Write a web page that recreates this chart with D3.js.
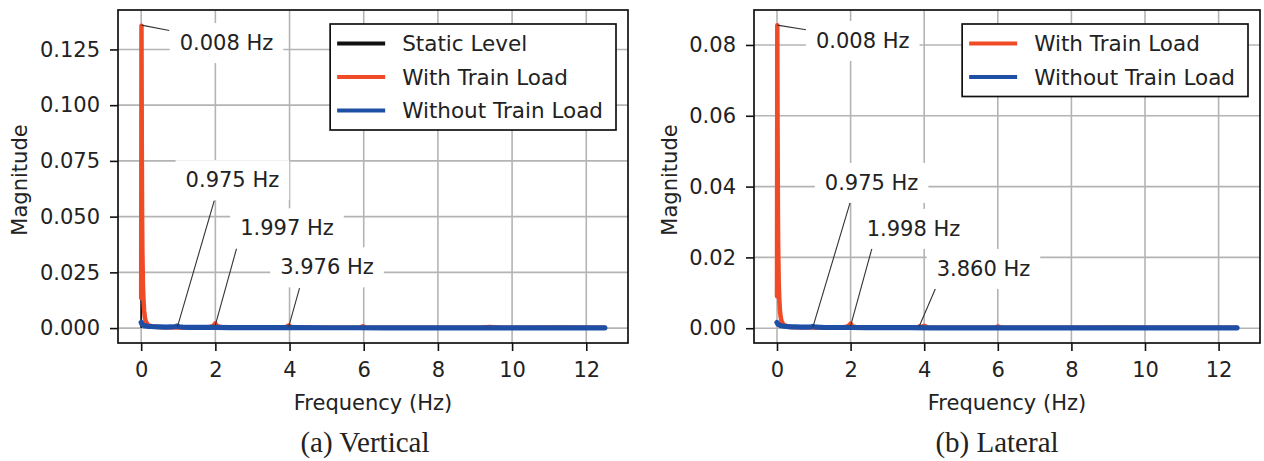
<!DOCTYPE html>
<html>
<head>
<meta charset="utf-8">
<script src="https://cdn.jsdelivr.net/npm/d3@7"></script>
<style>
  body { margin: 0; background: #fff; }
  svg { display: block; }
  text { font-family: "DejaVu Sans", sans-serif; fill: #222; }
  .caption { font-family: "Liberation Serif", "Times New Roman", serif; }
</style>
</head>
<body>
<script>
// ---- data: (a) vertical ----
const vFreqStatic = [0, 0.008, 0.016, 0.024, 0.04, 0.064, 0.1, 0.2, 0.4, 1, 2, 4, 6, 8, 10, 12.5];
const vMagStatic  = [0.0004, 0.1359, 0.0998, 0.046, 0.021, 0.0095, 0.0042, 0.0012, 0.0005, 0.0003, 0.0002, 0.00015, 0.0001, 0.0001, 0.0001, 0.0001];

const vFreqWith = [0, 0.008, 0.016, 0.024, 0.032, 0.048, 0.064, 0.08, 0.1, 0.12,
  0.16, 0.2, 0.3, 0.45, 0.7, 1.0, 1.4, 1.8, 1.94, 1.997,
  2.05, 2.2, 2.8, 3.4, 3.9, 3.976, 4.05, 4.5, 5.2, 5.9,
  5.98, 6.06, 6.6, 7.4, 8.2, 9.1, 9.4, 9.7, 10.5, 11.3,
  12.0, 12.5];
const vMagWith = [0.0135, 0.1356, 0.084, 0.052, 0.035, 0.019, 0.012, 0.0078, 0.0048, 0.0032,
  0.0019, 0.0012, 0.0007, 0.0005, 0.0004, 0.0003, 0.0003, 0.0003, 0.0009, 0.0021,
  0.0008, 0.0003, 0.0002, 0.0002, 0.0004, 0.0012, 0.0004, 0.0002, 0.0002, 0.0003,
  0.0008, 0.0002, 0.00015, 0.0002, 0.00012, 0.00015, 0.0005, 0.00012, 0.0001, 0.0003,
  0.0001, 0.0001];

const vFreqWithout = [0, 0.008, 0.016, 0.03, 0.05, 0.08, 0.12, 0.18, 0.26, 0.36,
  0.5, 0.66, 0.82, 0.93, 0.975, 1.02, 1.12, 1.3, 1.6, 2.0,
  2.4, 3.0, 3.6, 4.2, 5.0, 5.8, 6.6, 7.4, 8.2, 9.0,
  9.8, 10.6, 11.4, 12.0, 12.5];
const vMagWithout = [0.0026, 0.0024, 0.0019, 0.0016, 0.0013, 0.0011, 0.0010, 0.0008, 0.0007, 0.0006,
  0.0005, 0.0004, 0.0005, 0.0007, 0.0009, 0.0006, 0.0004, 0.0003, 0.0003, 0.0003,
  0.0002, 0.0002, 0.0002, 0.0002, 0.00015, 0.00015, 0.00012, 0.00012, 0.0001, 0.0001,
  0.0001, 0.0001, 0.0001, 0.0001, 0.0001];

const vAnnLabels  = ['0.008 Hz', '0.975 Hz', '1.997 Hz', '3.976 Hz'];
const vAnnFreq    = [0.008, 0.975, 1.997, 3.976];
const vAnnMag     = [0.1359, 0.0004, 0.0012, 0.0005];
const vAnnText    = [[2.30, 0.1281], [2.46, 0.0666], [3.93, 0.0450], [5.01, 0.0275]];
const vAnnLineEnd = [[0.76, 0.1335], [1.97, 0.0572], [2.57, 0.0356], [4.27, 0.0179]];
const vYTicks = [0, 0.025, 0.05, 0.075, 0.1, 0.125];

// ---- data: (b) lateral ----
const lFreqWith = [0, 0.008, 0.016, 0.024, 0.032, 0.048, 0.064, 0.08, 0.1, 0.12,
  0.16, 0.2, 0.3, 0.45, 0.7, 1.0, 1.4, 1.8, 1.94, 1.998,
  2.05, 2.2, 2.8, 3.4, 3.8, 3.86, 3.95, 4.0, 4.1, 4.6,
  5.3, 5.95, 6.0, 6.08, 6.8, 7.6, 8.4, 9.2, 10.0, 10.8,
  11.6, 12.2, 12.5];
const lMagWith = [0.009, 0.0856, 0.055, 0.034, 0.023, 0.0125, 0.0078, 0.005, 0.0032, 0.0021,
  0.0013, 0.0008, 0.0005, 0.0003, 0.00025, 0.0002, 0.0002, 0.0002, 0.0006, 0.0013,
  0.0005, 0.0002, 0.00015, 0.00015, 0.0002, 0.0005, 0.0004, 0.0007, 0.0002, 0.00015,
  0.00012, 0.0002, 0.0005, 0.00015, 0.0001, 0.00015, 0.0001, 0.0002, 0.0001, 0.0001,
  0.0001, 0.0001, 0.0001];

const lFreqWithout = [0, 0.008, 0.016, 0.03, 0.05, 0.08, 0.12, 0.18, 0.26, 0.36,
  0.5, 0.66, 0.82, 0.93, 0.975, 1.02, 1.12, 1.3, 1.6, 2.0,
  2.4, 3.0, 3.6, 4.2, 5.0, 5.8, 6.6, 7.4, 8.2, 9.0,
  9.8, 10.6, 11.4, 12.0, 12.5];
const lMagWithout = [0.0016, 0.0015, 0.0013, 0.0011, 0.0010, 0.0008, 0.0007, 0.0006, 0.0005, 0.0004,
  0.0004, 0.0003, 0.0003, 0.0004, 0.0005, 0.0004, 0.0003, 0.0002, 0.0002, 0.0002,
  0.00015, 0.00015, 0.00015, 0.00012, 0.0001, 0.0001, 0.0001, 0.0001, 0.0001, 0.0001,
  0.0001, 0.0001, 0.0001, 0.0001, 0.0001];

const lAnnLabels  = ['0.008 Hz', '0.975 Hz', '1.998 Hz', '3.860 Hz'];
const lAnnFreq    = [0.008, 0.975, 1.998, 3.86];
const lAnnMag     = [0.0856, 0.0003, 0.0006, 0.0004];
const lAnnText    = [[2.33, 0.0813], [2.57, 0.0412], [3.71, 0.0282], [5.61, 0.0169]];
const lAnnLineEnd = [[0.79, 0.0843], [1.99, 0.0356], [2.61, 0.0237], [4.31, 0.0113]];
const lYTicks = [0, 0.02, 0.04, 0.06, 0.08];

const xTicks = [0, 2, 4, 6, 8, 10, 12];
const colors = { static: '#111111', with: '#ef4b27', without: '#1e4fa5' };

const FS = 21;
const svg = d3.select('body').append('svg')
    .attr('width', 1264)
    .attr('height', 461);

// matplotlib style 5% margins
function padded(ext) {
  const r = ext[1] - ext[0];
  return [ext[0] - r * 0.05, ext[1] + r * 0.05];
}

function drawPanel(p) {
  const allF = p.series.flatMap(s => s.freq);
  const allM = p.series.flatMap(s => s.mag);
  const x = d3.scaleLinear().domain(padded(d3.extent(allF))).range([p.left, p.right]);
  const y = d3.scaleLinear().domain(padded(d3.extent(allM))).range([p.bottom, p.top]);
  const g = svg.append('g');

  // grid
  g.append('g').selectAll('line').data(xTicks).join('line')
      .attr('x1', d => x(d)).attr('x2', d => x(d))
      .attr('y1', p.top).attr('y2', p.bottom)
      .attr('stroke', '#b4b4b4').attr('stroke-width', 1.6);
  g.append('g').selectAll('line').data(p.yTicks).join('line')
      .attr('y1', d => y(d)).attr('y2', d => y(d))
      .attr('x1', p.left).attr('x2', p.right)
      .attr('stroke', '#b4b4b4').attr('stroke-width', 1.6);

  // spectra
  const line = d3.line().x(d => x(d[0])).y(d => y(d[1]));
  p.series.forEach(s => {
    g.append('path')
        .datum(d3.zip(s.freq, s.mag))
        .attr('d', line)
        .attr('fill', 'none')
        .attr('stroke', s.color)
        .attr('stroke-width', s.width)
        .attr('stroke-linejoin', 'round')
        .attr('stroke-linecap', 'round');
  });

  // annotations
  p.ann.labels.forEach((lab, i) => {
    const a = g.append('g');
    a.append('line')
        .attr('x1', x(p.ann.freq[i])).attr('y1', y(p.ann.mag[i]))
        .attr('x2', x(p.ann.end[i][0])).attr('y2', y(p.ann.end[i][1]))
        .attr('stroke', '#333').attr('stroke-width', 1.1);
    const box = a.append('rect').attr('fill', '#fff');
    const t = a.append('text')
        .attr('x', x(p.ann.text[i][0]))
        .attr('y', y(p.ann.text[i][1]))
        .attr('dy', '0.36em')
        .attr('text-anchor', 'middle')
        .attr('font-size', FS)
        .text(lab);
    const bb = t.node().getBBox();
    box.attr('x', bb.x - 10).attr('y', bb.y - 8)
        .attr('width', bb.width + 20).attr('height', bb.height + 16);
  });

  // axes
  const ax = g.append('g')
      .attr('transform', `translate(0,${p.bottom})`)
      .call(d3.axisBottom(x).tickValues(xTicks).tickSize(8).tickPadding(11).tickFormat(d3.format('d')));
  const ay = g.append('g')
      .attr('transform', `translate(${p.left},0)`)
      .call(d3.axisLeft(y).tickValues(p.yTicks).tickSize(8).tickPadding(10).tickFormat(d3.format(p.yFmt)));
  [ax, ay].forEach(a => {
    a.select('.domain').remove();
    a.selectAll('line').attr('stroke', '#111').attr('stroke-width', 1.6);
    a.selectAll('text').attr('font-size', FS).attr('font-family', 'DejaVu Sans').attr('fill', '#222');
  });

  // frame
  g.append('rect')
      .attr('x', p.left).attr('y', p.top)
      .attr('width', p.right - p.left).attr('height', p.bottom - p.top)
      .attr('fill', 'none').attr('stroke', '#111').attr('stroke-width', 1.7);

  // legend
  const lg = g.append('g');
  const lbox = lg.append('rect').attr('fill', '#fff').attr('stroke', '#111').attr('stroke-width', 1.7);
  const items = p.series.filter(s => s.legend);
  let maxW = 0;
  items.forEach((s, i) => {
    const cy = 19.5 + 33.5 * i;
    lg.append('line').attr('x1', 7).attr('x2', 55).attr('y1', cy).attr('y2', cy)
        .attr('stroke', s.color).attr('stroke-width', 4);
    const tt = lg.append('text').attr('x', 72).attr('y', cy).attr('dy', '0.36em')
        .attr('font-size', 21.5).text(s.name);
    maxW = Math.max(maxW, tt.node().getComputedTextLength());
  });
  const lw = 72 + maxW + 13, lh = 39 + 33.5 * (items.length - 1);
  lbox.attr('width', lw).attr('height', lh);
  lg.attr('transform', `translate(${p.right - 12 - lw},24)`);

  // labels
  g.append('text')
      .attr('x', (p.left + p.right) / 2).attr('y', 410)
      .attr('text-anchor', 'middle').attr('font-size', FS)
      .text('Frequency (Hz)');
  g.append('text')
      .attr('transform', `translate(${p.ylabelX},180) rotate(-90)`)
      .attr('text-anchor', 'middle').attr('font-size', FS)
      .text('Magnitude');
  g.append('text')
      .attr('class', 'caption')
      .attr('x', p.captionX).attr('y', 452)
      .attr('text-anchor', 'middle').attr('font-size', 29)
      .attr('fill', '#111')
      .text(p.caption);
}

drawPanel({
  left: 118, right: 628, top: 10, bottom: 343,
  ylabelX: 27, captionX: 365, caption: '(a) Vertical',
  yTicks: vYTicks, yFmt: '.3f',
  series: [
    { name: 'Static Level', freq: vFreqStatic, mag: vMagStatic, color: colors.static, width: 1.8, legend: true },
    { name: 'With Train Load', freq: vFreqWith, mag: vMagWith, color: colors.with, width: 4.5, legend: true },
    { name: 'Without Train Load', freq: vFreqWithout, mag: vMagWithout, color: colors.without, width: 5.2, legend: true }
  ],
  ann: { labels: vAnnLabels, freq: vAnnFreq, mag: vAnnMag, text: vAnnText, end: vAnnLineEnd }
});

drawPanel({
  left: 754, right: 1260, top: 10, bottom: 343,
  ylabelX: 677, captionX: 997, caption: '(b) Lateral',
  yTicks: lYTicks, yFmt: '.2f',
  series: [
    { name: 'With Train Load', freq: lFreqWith, mag: lMagWith, color: colors.with, width: 4.5, legend: true },
    { name: 'Without Train Load', freq: lFreqWithout, mag: lMagWithout, color: colors.without, width: 5.2, legend: true }
  ],
  ann: { labels: lAnnLabels, freq: lAnnFreq, mag: lAnnMag, text: lAnnText, end: lAnnLineEnd }
});
</script>
</body>
</html>
